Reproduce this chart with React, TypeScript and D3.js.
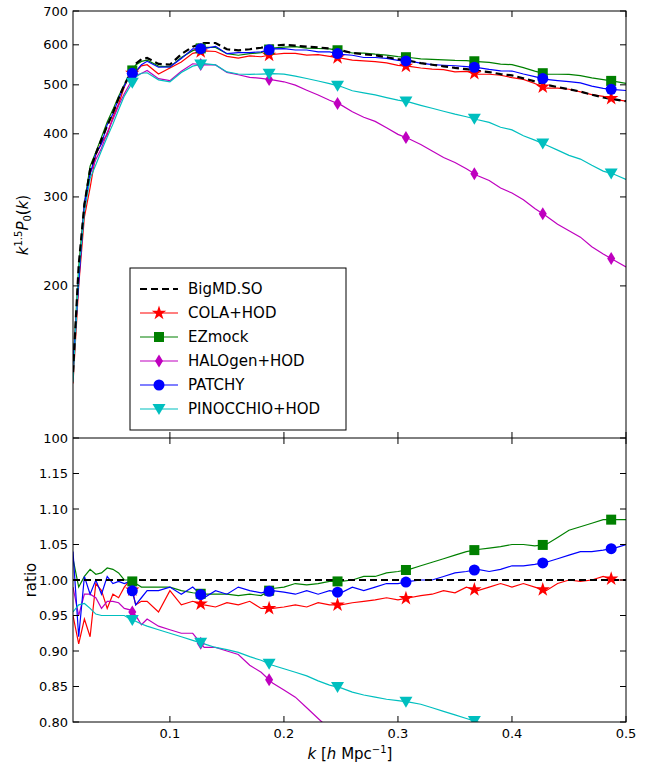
import React from "react";
import * as d3 from "d3";

const kVals = [0.015,0.02,0.025,0.03,0.035,0.04,0.045,0.05,0.055,0.06,0.065,0.07,0.075,0.08,
0.09,0.10,0.11,0.12,0.13,0.14,0.15,0.16,0.17,0.18,0.19,0.20,0.21,0.22,0.23,0.24,0.25,0.26,0.27,0.28,0.29,0.30,
0.31,0.32,0.33,0.34,0.35,0.36,0.37,0.38,0.39,0.40,0.41,0.42,0.43,0.44,0.45,0.46,0.47,0.48,0.49,0.50];
const bigmd = [135,220,290,340,365,390,415,440,470,500,525,550,562,565,
550,548,575,595,605,605,588,585,588,592,598,600,598,595,593,590,585,578,575,572,567,562,
558,552,548,544,540,537,533,530,525,522,515,508,500,495,490,485,478,472,468,464];
const colaR = [0.95,0.91,0.945,0.92,0.995,0.985,0.96,0.98,0.975,0.99,1.0,0.965,0.97,0.97,
0.955,0.985,0.965,0.97,0.965,0.962,0.968,0.965,0.97,0.96,0.96,0.962,0.965,0.962,0.968,0.965,0.965,0.968,0.97,0.972,0.975,0.972,
0.975,0.978,0.98,0.985,0.982,0.99,0.985,0.99,0.995,0.99,0.995,0.99,0.985,0.995,1.0,0.998,1.0,1.005,1.0,1.0];
const ezR = [1.03,0.99,1.005,1.015,1.008,1.01,1.017,1.015,1.01,1.0,1.0,0.995,0.99,0.99,
0.99,0.99,0.985,0.982,0.98,0.98,0.98,0.978,0.98,0.978,0.988,0.99,0.995,0.993,0.995,0.998,0.998,1.0,1.005,1.005,1.01,1.012,
1.015,1.02,1.025,1.03,1.035,1.04,1.043,1.045,1.047,1.05,1.05,1.048,1.05,1.06,1.07,1.075,1.08,1.085,1.085,1.085];
const halR = [0.99,0.95,0.98,0.98,0.975,0.96,0.97,0.97,0.968,0.96,0.958,0.95,0.937,0.945,
0.935,0.93,0.925,0.925,0.905,0.905,0.9,0.895,0.88,0.87,0.855,0.845,0.835,0.82,0.805,0.79,0.78,0.765,0.75,0.74,0.725,0.71,
0.70,0.69,0.675,0.66,0.65,0.635,0.62,0.61,0.595,0.585,0.575,0.56,0.55,0.535,0.525,0.515,0.5,0.49,0.48,0.47];
const patR = [1.04,0.92,1.005,0.98,1.0,0.98,1.005,0.995,0.998,0.995,0.998,0.965,0.975,0.985,
0.985,0.99,0.98,0.99,0.975,0.985,0.98,0.99,0.985,0.982,0.985,0.983,0.98,0.985,0.98,0.985,0.982,0.99,0.985,0.99,0.995,0.995,
0.998,1.0,1.0,1.005,1.01,1.012,1.015,1.012,1.015,1.02,1.02,1.022,1.025,1.03,1.035,1.04,1.04,1.042,1.045,1.05];
const pinR = [0.955,0.965,0.967,0.96,0.952,0.95,0.95,0.95,0.95,0.95,0.945,0.942,0.938,0.935,
0.93,0.925,0.92,0.915,0.91,0.905,0.902,0.898,0.892,0.887,0.88,0.875,0.87,0.865,0.858,0.852,0.848,0.842,0.838,0.835,0.832,0.83,
0.828,0.825,0.82,0.815,0.81,0.805,0.8,0.795,0.785,0.78,0.77,0.765,0.76,0.75,0.74,0.735,0.725,0.715,0.71,0.70];
const markerK = [0.067,0.127,0.187,0.247,0.307,0.367,0.427,0.487];
const seriesNames = ["COLA+HOD","EZmock","HALOgen+HOD","PATCHY","PINOCCHIO+HOD"];
const seriesColors = ["#ff0000","#008000","#bf00bf","#0000ff","#00bfbf"];
const seriesShapes = ["star","square","diamond","circle","tri"];
const seriesRatios = [colaR, ezR, halR, patR, pinR];
const xTicks = [0.1,0.2,0.3,0.4,0.5];
const topTicks = [100,200,300,400,500,600,700];
const botTicks = [0.80,0.85,0.90,0.95,1.00,1.05,1.10,1.15];

const L = 73, R = 626, T = 11, M = 438, B = 722;
const x = d3.scaleLinear().domain([0.015, 0.5]).range([L, R]);
const yT = d3.scaleLog().domain([100, 700]).range([M, T]);
const yB = d3.scaleLinear().domain([0.8, 1.2]).range([B, M]);

function interp(arr: number[], k: number) {
  const i = d3.bisectLeft(kVals, k);
  const a = Math.max(1, i);
  const t = (k - kVals[a - 1]) / (kVals[a] - kVals[a - 1]);
  return arr[a - 1] + t * (arr[a] - arr[a - 1]);
}

function Marker({ shape, cx, cy, color }: any) {
  if (shape === "circle") return <circle cx={cx} cy={cy} r={5.5} fill={color} />;
  if (shape === "square") return <rect x={cx - 5} y={cy - 5} width={10} height={10} fill={color} />;
  if (shape === "diamond") return <path d={`M${cx},${cy - 6.5}L${cx + 4},${cy}L${cx},${cy + 6.5}L${cx - 4},${cy}Z`} fill={color} />;
  if (shape === "tri") return <path d={`M${cx - 6.5},${cy - 5}L${cx + 6.5},${cy - 5}L${cx},${cy + 6}Z`} fill={color} />;
  const sym = d3.symbol().type(d3.symbolStar).size(65)();
  return <path d={sym as string} transform={`translate(${cx},${cy})`} fill={color} />;
}

export default function App() {
  const lineT = d3.line<number>().x((_, i) => x(kVals[i])).y((v) => yT(v));
  const lineB = d3.line<number>().x((_, i) => x(kVals[i])).y((v) => yB(v));
  const font = "DejaVu Sans, sans-serif";
  const tick = 6;
  return (
    <svg width={654} height={769} style={{ position: "absolute", left: 0, top: 0 }} fontFamily={font}>
      <defs>
        <clipPath id="cT"><rect x={L} y={T} width={R - L} height={M - T} /></clipPath>
        <clipPath id="cB"><rect x={L} y={M} width={R - L} height={B - M} /></clipPath>
      </defs>
      <rect width={654} height={769} fill="white" />
      <g clipPath="url(#cT)">
        {seriesRatios.map((r, s) => (
          <path key={s} d={lineT(r.map((v, i) => v * bigmd[i])) as string} fill="none" stroke={seriesColors[s]} strokeWidth={1.2} />
        ))}
        <path d={lineT(bigmd) as string} fill="none" stroke="black" strokeWidth={2.2} strokeDasharray="7,4" />
        {seriesRatios.map((r, s) => markerK.map((k, j) => (
          <Marker key={s + "-" + j} shape={seriesShapes[s]} color={seriesColors[s]} cx={x(k)} cy={yT(interp(r, k) * interp(bigmd, k))} />
        )))}
      </g>
      <g clipPath="url(#cB)">
        {seriesRatios.map((r, s) => (
          <path key={s} d={lineB(r) as string} fill="none" stroke={seriesColors[s]} strokeWidth={1.2} />
        ))}
        <line x1={L} x2={R} y1={yB(1)} y2={yB(1)} stroke="black" strokeWidth={2.2} strokeDasharray="7,4" />
        {seriesRatios.map((r, s) => markerK.map((k, j) => (
          <Marker key={s + "-" + j} shape={seriesShapes[s]} color={seriesColors[s]} cx={x(k)} cy={yB(interp(r, k))} />
        )))}
      </g>
      <rect x={L} y={T} width={R - L} height={B - T} fill="none" stroke="black" strokeWidth={1} />
      <line x1={L} x2={R} y1={M} y2={M} stroke="black" />
      {xTicks.map((t) => (
        <g key={t}>
          {[T, M].map((yy) => <line key={"a" + yy} x1={x(t)} x2={x(t)} y1={yy} y2={yy + tick} stroke="black" />)}
          {[M, B].map((yy) => <line key={"b" + yy} x1={x(t)} x2={x(t)} y1={yy} y2={yy - tick} stroke="black" />)}
          <text x={x(t)} y={B + 16} fontSize={13} textAnchor="middle">{t.toFixed(1)}</text>
        </g>
      ))}
      {topTicks.map((t) => (
        <g key={t}>
          <line x1={L} x2={L + tick} y1={yT(t)} y2={yT(t)} stroke="black" />
          <line x1={R} x2={R - tick} y1={yT(t)} y2={yT(t)} stroke="black" />
          <text x={L - 5} y={yT(t) + 4.5} fontSize={13} textAnchor="end">{t}</text>
        </g>
      ))}
      {botTicks.map((t) => (
        <g key={t}>
          <line x1={L} x2={L + tick} y1={yB(t)} y2={yB(t)} stroke="black" />
          <line x1={R} x2={R - tick} y1={yB(t)} y2={yB(t)} stroke="black" />
          <text x={L - 5} y={yB(t) + 4.5} fontSize={13} textAnchor="end">{t.toFixed(2)}</text>
        </g>
      ))}
      <text transform="translate(28,225) rotate(-90)" fontSize={15} textAnchor="middle" fontStyle="italic">
        k<tspan fontSize={10} dy={-6} fontStyle="normal">1.5</tspan><tspan dy={6}>P</tspan><tspan fontSize={10} dy={3} fontStyle="normal">0</tspan><tspan dy={-3} fontStyle="normal">(</tspan>k<tspan fontStyle="normal">)</tspan>
      </text>
      <text transform="translate(36,580) rotate(-90)" fontSize={15} textAnchor="middle">ratio</text>
      <text x={350} y={759} fontSize={15} textAnchor="middle">
        <tspan fontStyle="italic">k</tspan> [<tspan fontStyle="italic">h</tspan> Mpc<tspan fontSize={10} dy={-6}>−1</tspan><tspan dy={6}>]</tspan>
      </text>
      <g>
        <rect x={130} y={268} width={216} height={162} fill="white" stroke="black" />
        <line x1={140} x2={178} y1={289} y2={289} stroke="black" strokeWidth={2.2} strokeDasharray="7,4" />
        <text x={188} y={294} fontSize={15}>BigMD.SO</text>
        {seriesNames.map((n, i) => {
          const yy = 313 + i * 24;
          return (
            <g key={n}>
              <line x1={140} x2={178} y1={yy} y2={yy} stroke={seriesColors[i]} strokeWidth={1.2} />
              <Marker shape={seriesShapes[i]} color={seriesColors[i]} cx={159} cy={yy} />
              <text x={188} y={yy + 5} fontSize={15}>{n}</text>
            </g>
          );
        })}
      </g>
    </svg>
  );
}
